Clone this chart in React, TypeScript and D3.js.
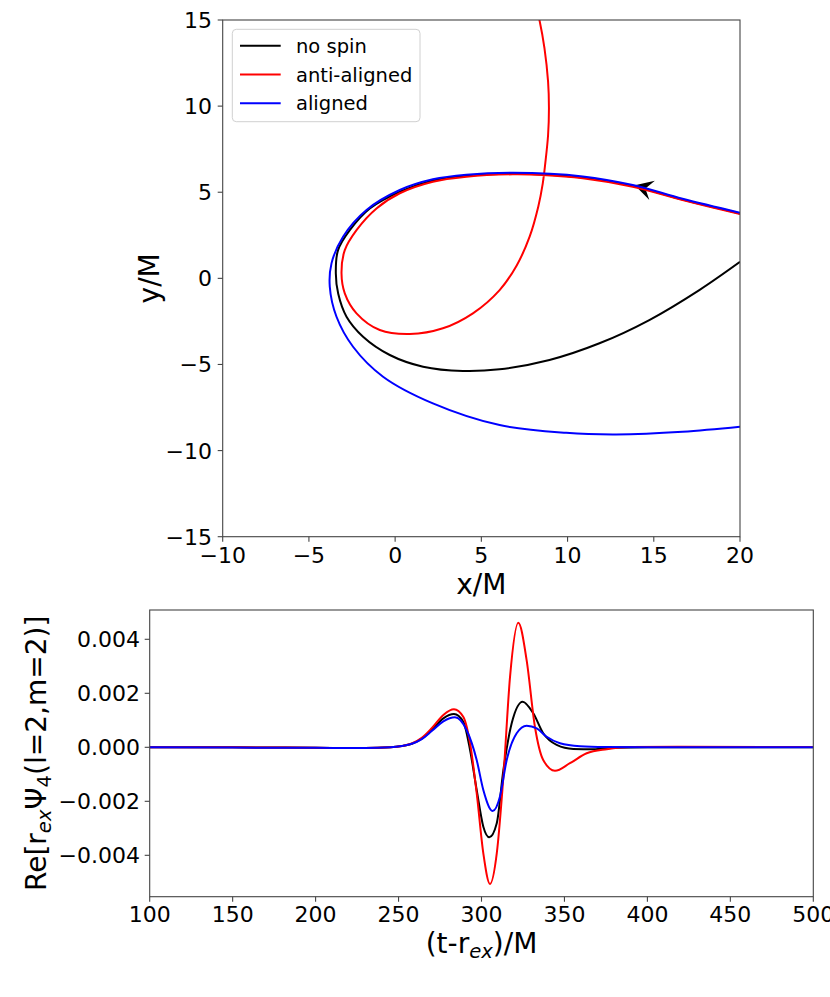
import React, { useEffect, useRef } from 'react';
import * as d3 from 'd3';

type Pt = [number, number];

// orbits in the (x/M, y/M) plane, in order of travel
const noSpinOrbit: Pt[] = [
  [20, 3.77], [16.67, 4.58], [13.78, 5.36], [10.88, 5.86], [6.83, 6.08], [4.13, 5.95],
  [2.19, 5.68], [0.27, 5.03], [-1.47, 4.06], [-2.63, 2.8], [-3.31, 1.64], [-3.44, 0.29],
  [-3.3, -0.9], [-2.82, -2.23], [-1.86, -3.39], [-0.31, -4.45], [1.62, -5.13], [3.93, -5.38],
  [6.06, -5.28], [8.95, -4.74], [11.85, -3.77], [14.74, -2.42], [17.64, -0.68], [20, 0.96],
];

const antiAlignedOrbit: Pt[] = [
  [20, 3.73], [16.67, 4.55], [13.78, 5.32], [10.88, 5.81], [8.56, 6.0], [6.83, 6.04],
  [4.13, 5.9], [2.19, 5.61], [0.27, 4.94], [-1.08, 4.06], [-2.24, 2.8], [-2.92, 1.64],
  [-3.11, 0.29], [-2.92, -0.87], [-2.24, -2.03], [-0.89, -3.0], [0.85, -3.23], [2.77, -2.9],
  [4.51, -2.03], [6.06, -0.68], [7.05, 0.75], [7.8, 2.42], [8.3, 4.16], [8.56, 5.5],
  [8.71, 6.7], [8.87, 8.32], [8.92, 9.89], [8.87, 11.42], [8.66, 13.37], [8.37, 15], [8.09, 16.16],
];

const alignedOrbit: Pt[] = [
  [20, 3.81], [16.67, 4.62], [13.78, 5.42], [10.88, 5.92], [6.83, 6.13], [4.13, 6.02],
  [2.19, 5.75], [0.27, 5.13], [-1.66, 3.97], [-3.02, 2.42], [-3.69, 0.87], [-3.79, -0.49],
  [-3.4, -2.23], [-2.44, -3.97], [-0.7, -5.71], [2.19, -7.26], [6.06, -8.52], [9.92, -8.97],
  [12.81, -9.06], [16.67, -8.91], [20, -8.62],
];

// arrow marking the direction of motion: tip and a point behind it
const arrowTip: Pt = [13.9, 5.4];
const arrowTail: Pt = [16.67, 4.6];

// Re[r_ex Psi_4(l=2,m=2)] against (t - r_ex)/M
const noSpinWave: Pt[] = [
  [100, 0], [150, 0], [200, -0.00002], [230, -0.00003], [245, 0], [252, 0.00005],
  [258, 0.00013], [264, 0.00032], [270, 0.00064], [277, 0.00107], [283.4, 0.00123], [289, 0.00095],
  [293.1, -0.0001], [297.1, -0.00158], [301.1, -0.00294], [304.7, -0.00333], [309.2, -0.00281],
  [313.2, -0.00084], [318.2, 0.00089], [324.8, 0.00169], [331.2, 0.00126], [337.2, 0.00052],
  [345.3, 0.00009], [355.3, -0.00006], [367.4, -0.00007], [380, -0.00002], [400, 0], [500, 0],
];

const antiAlignedWave: Pt[] = [
  [100, 0], [150, 0], [200, -0.00002], [230, -0.00003], [245, 0], [252, 0.00005],
  [258, 0.00014], [264, 0.00035], [270, 0.00071], [277, 0.0012], [283.4, 0.00141], [289, 0.00113],
  [293.1, 0.00015], [297.1, -0.0017], [301.1, -0.00393], [305.1, -0.00506], [309.2, -0.00393],
  [313.2, -0.00109], [317.2, 0.00261], [322.2, 0.00461], [327.2, 0.00323], [332.2, 0.00076],
  [337.2, -0.00047], [344.3, -0.00087], [353.3, -0.00059], [363.4, -0.00022], [375.5, -0.00007],
  [390, 0.00001], [420, 0.00002], [500, 0.00001],
];

const alignedWave: Pt[] = [
  [100, 0], [150, -0.00001], [200, -0.00002], [230, -0.00003], [245, 0], [252, 0.00005],
  [258, 0.00013], [264, 0.0003], [270, 0.0006], [277, 0.00096], [284, 0.00111], [291, 0.00064],
  [297.1, -0.00047], [301.1, -0.00158], [306.7, -0.00236], [311.1, -0.00183], [315.2, -0.00047],
  [321.2, 0.00052], [327.2, 0.0008], [333.3, 0.0007], [339.3, 0.00039], [347.3, 0.00015],
  [359.4, 0.00004], [375, 0.00001], [400, 0], [500, 0],
];

const seriesNames = ['no spin', 'anti-aligned', 'aligned'];
const seriesColors = ['black', 'red', 'blue'];

const orbitXTicks = [-10, -5, 0, 5, 10, 15, 20];
const orbitYTicks = [-15, -10, -5, 0, 5, 10, 15];
const waveXTicks = [100, 150, 200, 250, 300, 350, 400, 450, 500];
const waveYTicks = [-0.004, -0.002, 0, 0.002, 0.004];

const FONT = 'DejaVu Sans, sans-serif';
const SPINE = '#444';
const minus = (s: string) => s.replace('-', '\u2212');

const App: React.FC = () => {
  const ref = useRef<SVGSVGElement>(null);

  useEffect(() => {
    if (!ref.current) return;
    const svg = d3.select(ref.current);
    svg.selectAll('*').remove();

    // ---------- top panel: orbits ----------
    const top = { left: 222.7, right: 740, top: 20, bottom: 536.7 };
    const x1 = d3.scaleLinear().domain([-10, 20]).range([top.left, top.right]);
    const y1 = d3.scaleLinear().domain([-15, 15]).range([top.bottom, top.top]);

    svg.append('defs').append('clipPath').attr('id', 'clipTop')
      .append('rect')
      .attr('x', top.left).attr('y', top.top)
      .attr('width', top.right - top.left).attr('height', top.bottom - top.top);

    const orbitLine = d3.line<Pt>()
      .x((d) => x1(d[0]))
      .y((d) => y1(d[1]))
      .curve(d3.curveCatmullRom.alpha(0.5));

    const gTop = svg.append('g').attr('clip-path', 'url(#clipTop)');

    // arrow head
    const tx = x1(arrowTip[0]), ty = y1(arrowTip[1]);
    const bx = x1(arrowTail[0]), by = y1(arrowTail[1]);
    const len = Math.hypot(bx - tx, by - ty);
    const ux = (bx - tx) / len, uy = (by - ty) / len;
    const px = -uy, py = ux;
    const L = 18, W = 10, N = 11;
    gTop.append('path')
      .attr('d', `M${tx},${ty} L${tx + ux * L + px * W},${ty + uy * L + py * W} L${tx + ux * N},${ty + uy * N} L${tx + ux * L - px * W},${ty + uy * L - py * W} Z`)
      .attr('fill', 'black');

    [noSpinOrbit, antiAlignedOrbit, alignedOrbit].forEach((data, i) => {
      gTop.append('path')
        .datum(data)
        .attr('fill', 'none')
        .attr('stroke', seriesColors[i])
        .attr('stroke-width', 2)
        .attr('d', orbitLine);
    });

    const drawFrame = (
      b: { left: number; right: number; top: number; bottom: number },
      xs: d3.ScaleLinear<number, number>,
      ys: d3.ScaleLinear<number, number>,
      xt: number[], yt: number[],
      xfmt: (v: number) => string, yfmt: (v: number) => string,
      xLabelY: number, yLabelX: number
    ) => {
      const g = svg.append('g');
      g.append('rect')
        .attr('x', b.left).attr('y', b.top)
        .attr('width', b.right - b.left).attr('height', b.bottom - b.top)
        .attr('fill', 'none').attr('stroke', SPINE).attr('stroke-width', 1.1);
      xt.forEach((v) => {
        g.append('line')
          .attr('x1', xs(v)).attr('x2', xs(v))
          .attr('y1', b.bottom).attr('y2', b.bottom + 5)
          .attr('stroke', SPINE).attr('stroke-width', 1.1);
        g.append('text')
          .attr('x', xs(v)).attr('y', xLabelY)
          .attr('text-anchor', 'middle')
          .attr('font-family', FONT).attr('font-size', 22)
          .text(xfmt(v));
      });
      yt.forEach((v) => {
        g.append('line')
          .attr('x1', b.left - 5).attr('x2', b.left)
          .attr('y1', ys(v)).attr('y2', ys(v))
          .attr('stroke', SPINE).attr('stroke-width', 1.1);
        g.append('text')
          .attr('x', yLabelX).attr('y', ys(v))
          .attr('dy', '0.36em')
          .attr('text-anchor', 'end')
          .attr('font-family', FONT).attr('font-size', 22)
          .text(yfmt(v));
      });
    };

    drawFrame(top, x1, y1, orbitXTicks, orbitYTicks,
      (v) => minus(String(v)), (v) => minus(String(v)), 563, 212);

    svg.append('text')
      .attr('x', (top.left + top.right) / 2).attr('y', 594)
      .attr('text-anchor', 'middle')
      .attr('font-family', FONT).attr('font-size', 28)
      .text('x/M');
    svg.append('text')
      .attr('transform', `translate(159,${(top.top + top.bottom) / 2}) rotate(-90)`)
      .attr('text-anchor', 'middle')
      .attr('font-family', FONT).attr('font-size', 28)
      .text('y/M');

    // legend
    const lg = svg.append('g');
    lg.append('rect')
      .attr('x', 232.3).attr('y', 29.3).attr('width', 187.7).attr('height', 92.4)
      .attr('rx', 4)
      .attr('fill', 'white').attr('fill-opacity', 0.8)
      .attr('stroke', '#d0d0d0').attr('stroke-width', 1);
    seriesNames.forEach((name, i) => {
      const yy = 45.7 + i * 28.8;
      lg.append('line')
        .attr('x1', 240).attr('x2', 280.7).attr('y1', yy).attr('y2', yy)
        .attr('stroke', seriesColors[i]).attr('stroke-width', 2);
      lg.append('text')
        .attr('x', 296).attr('y', yy).attr('dy', '0.36em')
        .attr('font-family', FONT).attr('font-size', 19.5)
        .text(name);
    });

    // ---------- bottom panel: waveforms ----------
    const bot = { left: 149.7, right: 813.3, top: 610, bottom: 896.7 };
    const x2 = d3.scaleLinear().domain([100, 500]).range([bot.left, bot.right]);
    const y2 = d3.scaleLinear().domain([-0.005533, 0.005085]).range([bot.bottom, bot.top]);

    svg.select('defs').append('clipPath').attr('id', 'clipBot')
      .append('rect')
      .attr('x', bot.left).attr('y', bot.top)
      .attr('width', bot.right - bot.left).attr('height', bot.bottom - bot.top);

    const waveLine = d3.line<Pt>()
      .x((d) => x2(d[0]))
      .y((d) => y2(d[1]))
      .curve(d3.curveMonotoneX);

    const gBot = svg.append('g').attr('clip-path', 'url(#clipBot)');
    [noSpinWave, antiAlignedWave, alignedWave].forEach((data, i) => {
      gBot.append('path')
        .datum(data)
        .attr('fill', 'none')
        .attr('stroke', seriesColors[i])
        .attr('stroke-width', 2)
        .attr('d', waveLine);
    });

    drawFrame(bot, x2, y2, waveXTicks, waveYTicks,
      (v) => String(v), (v) => minus(d3.format('.3f')(v)), 922, 140);

    const xl = svg.append('text')
      .attr('x', (bot.left + bot.right) / 2).attr('y', 953)
      .attr('text-anchor', 'middle')
      .attr('font-family', FONT).attr('font-size', 28);
    xl.append('tspan').text('(t-r');
    xl.append('tspan').attr('font-size', 19.6).attr('font-style', 'italic').attr('dy', 5).text('ex');
    xl.append('tspan').attr('dy', -5).text(')/M');

    const yl = svg.append('text')
      .attr('transform', `translate(46,${(bot.top + bot.bottom) / 2}) rotate(-90)`)
      .attr('text-anchor', 'middle')
      .attr('font-family', FONT).attr('font-size', 28);
    yl.append('tspan').text('Re[r');
    yl.append('tspan').attr('font-size', 19.6).attr('font-style', 'italic').attr('dy', 5).text('ex');
    yl.append('tspan').attr('dy', -5).text('\u03A8');
    yl.append('tspan').attr('font-size', 19.6).attr('dy', 5).text('4');
    yl.append('tspan').attr('dy', -5).text('(l=2,m=2)]');
  }, []);

  return (
    <svg
      ref={ref}
      width={830}
      height={997}
      style={{ position: 'absolute', left: 0, top: 0, background: 'white' }}
    />
  );
};

export default App;
